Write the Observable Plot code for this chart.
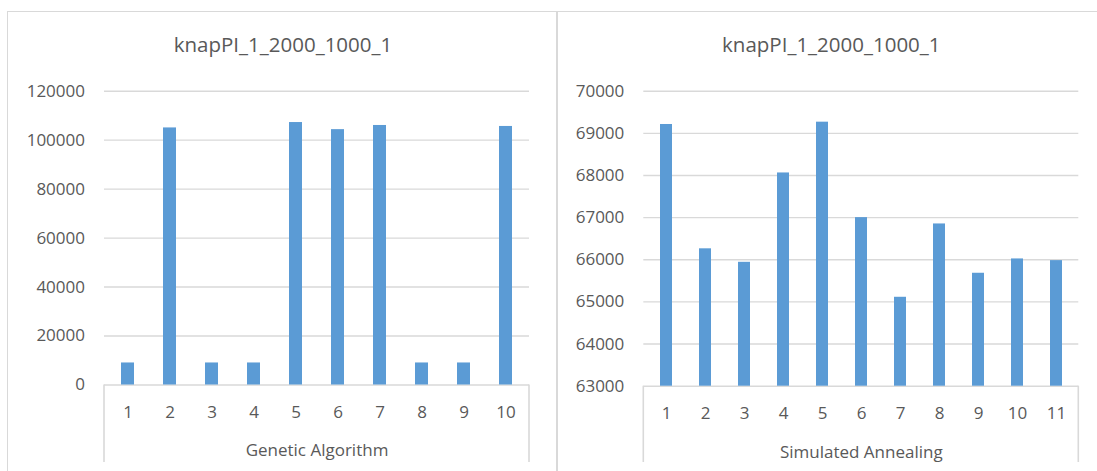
<!DOCTYPE html>
<html>
<head>
<meta charset="utf-8">
<script src="https://cdn.jsdelivr.net/npm/d3@7"></script>
<script src="https://cdn.jsdelivr.net/npm/@observablehq/plot@0.6"></script>
<style>
  html, body { margin: 0; padding: 0; background: #fff; }
  #page { position: relative; width: 1097px; height: 471px; overflow: hidden; background: #fff; }
  .box { position: absolute; border: 1px solid #d9d9d9; box-sizing: border-box; }
  .panel { position: absolute; top: 0; }
  .panel svg { display: block; overflow: visible; }
</style>
</head>
<body>
<div id="page">
  <div class="box" style="left:7px; top:11px; width:551px; height:480px;"></div>
  <div class="box" style="left:556px; top:11px; width:560px; height:480px;"></div>
  <div class="panel" id="ga" style="left:0px;"></div>
  <div class="panel" id="sa" style="left:557px;"></div>
</div>
<script>
// Shared chart title
const chartTitle = "knapPI_1_2000_1000_1";

// Genetic Algorithm runs
const gaRuns = [1, 2, 3, 4, 5, 6, 7, 8, 9, 10];
const gaValues = [9000, 105000, 9000, 9000, 107200, 104300, 106000, 9000, 9000, 105600];
const gaTicks = [0, 20000, 40000, 60000, 80000, 100000, 120000];
const gaLabel = "Genetic Algorithm";

// Simulated Annealing runs
const saRuns = [1, 2, 3, 4, 5, 6, 7, 8, 9, 10, 11];
const saValues = [69210, 66260, 65940, 68060, 69265, 67000, 65110, 66850, 65680, 66020, 65980];
const saTicks = [63000, 64000, 65000, 66000, 67000, 68000, 69000, 70000];
const saLabel = "Simulated Annealing";

const BAR = "#5B9BD5";
const GRID = "#d9d9d9";
const INK = "#595959";
const FONT = "'Open Sans', 'Liberation Sans', sans-serif";

function columnChart({runs, values, ticks, label, width, margins, titleDx}) {
  const data = runs.map((r, i) => ({run: String(r), value: values[i]}));
  const [yMin, yMax] = [ticks[0], ticks[ticks.length - 1]];
  const height = 471;
  const plot = Plot.plot({
    width, height,
    ...margins,
    style: {fontFamily: FONT, fontSize: "17px", color: INK, background: "transparent", overflow: "visible"},
    x: {type: "band", domain: data.map(d => d.run), paddingInner: 0.7, paddingOuter: 0.35},
    y: {domain: [yMin, yMax]},
    marks: [
      Plot.gridY(ticks.slice(1), {stroke: GRID, strokeOpacity: 1, strokeWidth: 1.4}),
      Plot.ruleY([yMin], {stroke: GRID, strokeWidth: 1.6}),
      Plot.barY(data, {x: "run", y1: yMin, y2: "value", fill: BAR}),
      Plot.axisY(ticks, {tickSize: 0, tickPadding: 19.5, tickFormat: d => String(d), fill: INK, label: null, fontSize: 17}),
      Plot.axisX({tickSize: 0, tickPadding: 21, fill: INK, label: null, fontSize: 17}),
      Plot.text([label], {frameAnchor: "bottom", dy: 66, lineAnchor: "middle", fill: INK, fontSize: 17}),
      Plot.text([chartTitle], {frameAnchor: "top", dy: -45.5, dx: titleDx, lineAnchor: "middle", fill: INK, fontSize: 20.5})
    ]
  });
  // Outer boundary lines of the category axis, dropping below the baseline
  const xr = plot.scale("x").range;
  const y0 = height - margins.marginBottom;
  const svg = d3.select(plot);
  for (const x of xr) {
    svg.append("line")
      .attr("x1", x).attr("x2", x)
      .attr("y1", y0).attr("y2", 462)
      .attr("stroke", GRID).attr("stroke-width", 1.6);
  }
  return plot;
}

document.getElementById("ga").append(columnChart({
  runs: gaRuns, values: gaValues, ticks: gaTicks, label: gaLabel,
  width: 557,
  margins: {marginLeft: 104, marginRight: 28, marginTop: 90.7, marginBottom: 86.5},
  titleDx: -34
}));

document.getElementById("sa").append(columnChart({
  runs: saRuns, values: saValues, ticks: saTicks, label: saLabel,
  width: 540,
  margins: {marginLeft: 86.3, marginRight: 18.7, marginTop: 90.7, marginBottom: 85.3},
  titleDx: -30
}));
</script>
</body>
</html>
